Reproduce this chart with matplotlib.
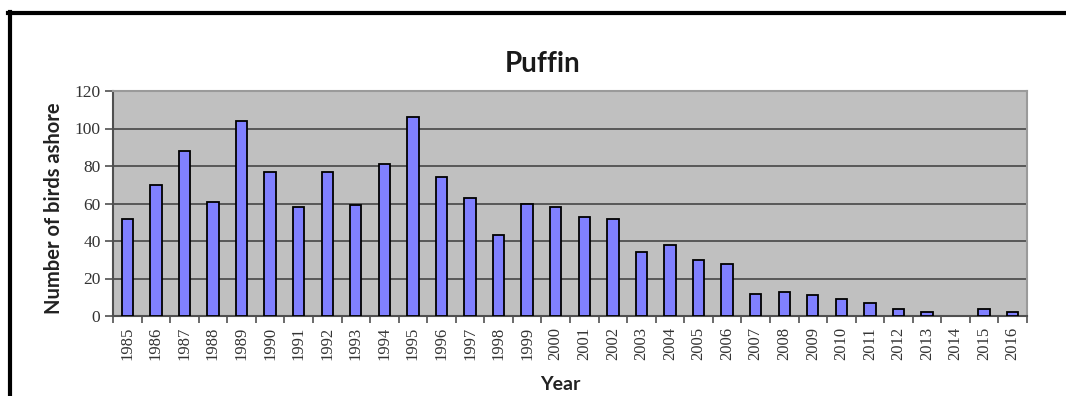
import matplotlib
matplotlib.use('Agg')
import matplotlib.pyplot as plt
from matplotlib.lines import Line2D
import numpy as np

years = [str(y) for y in range(1985, 2017)]
birds = [52, 70, 88, 61, 104, 77, 58, 77, 59, 81, 106, 74, 63, 43, 60, 58,
         53, 52, 34, 38, 30, 28, 12, 13, 11, 9, 7, 4, 2, 0, 4, 2]
yticks = [0, 20, 40, 60, 80, 100, 120]

fig = plt.figure(figsize=(10.66, 3.96), dpi=100)
ax = fig.add_axes([113/1066, 1-316/396, (1027-113)/1066, (316-91)/396])

x = np.arange(len(years))
ax.set_facecolor('#c0c0c0')
bars = ax.bar(x, birds, width=0.4, color='#8080ff', edgecolor='black', linewidth=1.3, zorder=3)
# empty years show no outline
for b, v in zip(bars, birds):
    if v == 0:
        b.set_edgecolor('none')

ax.set_xlim(-0.5, len(years)-0.5)
ax.set_ylim(0, 120)
ax.set_yticks(yticks)
ax.set_yticklabels([str(v) for v in yticks], family='Liberation Serif', fontsize=12.5, color='#333333')
for v in yticks[1:-1]:
    ax.axhline(v, color='#505050', lw=1.3, zorder=1)

ax.set_xticks(x)
ax.set_xticklabels(years, rotation=90, family='Liberation Serif', fontsize=12, color='#333333')
ax.set_xticks(np.arange(-0.5, len(years), 1), minor=True)
ax.tick_params(axis='x', which='major', length=0, pad=8)
ax.tick_params(axis='x', which='minor', length=5, width=1.2, color='#505050')
ax.tick_params(axis='y', length=6, width=1.2, color='#505050', pad=3)

for s in ['top', 'right']:
    ax.spines[s].set_color('#9a9a9a')
    ax.spines[s].set_linewidth(1.5)
for s in ['left', 'bottom']:
    ax.spines[s].set_color('#505050')
    ax.spines[s].set_linewidth(1.5)

fig.text(543/1066, 1-72/396, 'Puffin', family='Lato', weight='bold', fontsize=20,
         ha='center', va='baseline', color='#1a1a1a')
fig.text(54/1066, 1-208/396, 'Number of birds ashore', family='Lato', weight='bold',
         fontsize=14.5, rotation=90, ha='center', va='center', color='#222222')
fig.text(560/1066, 1-384/396, 'Year', family='Lato', weight='bold', fontsize=14,
         ha='center', va='center', color='#222222')

# outer chart border (top and left visible)
fig.add_artist(Line2D([8/1066, 1], [1-13/396, 1-13/396], color='black', lw=3, transform=fig.transFigure))
fig.add_artist(Line2D([9.5/1066, 9.5/1066], [1-12/396, 0], color='black', lw=3, transform=fig.transFigure))

fig.savefig('out.png', dpi=100)
